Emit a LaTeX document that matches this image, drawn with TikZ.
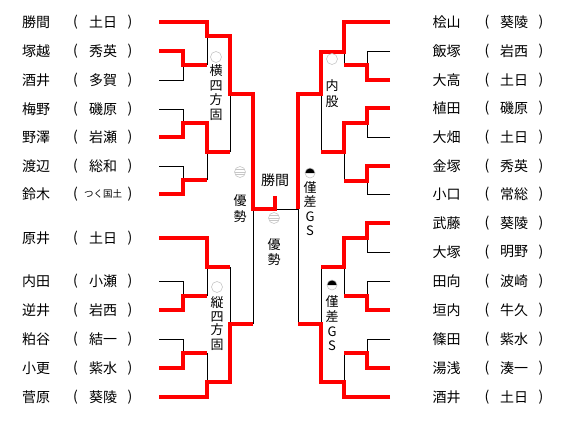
\documentclass[tikz,border=0pt]{standalone}
\usepackage{fontspec}
\newfontfamily\jpfont{Noto Sans CJK JP}
\begin{document}
\begin{tikzpicture}[x=1pt,y=-1pt,
  redl/.style={draw=red, line width=4.6pt, line join=miter},
  blkl/.style={draw=black, line width=0.8pt},
  nm/.style={font=\jpfont\fontsize{14}{14}\selectfont, inner sep=0pt, anchor=center},
  small/.style={font=\jpfont\fontsize{9.5}{9.5}\selectfont, inner sep=0pt, anchor=center},
  lab/.style={font=\jpfont\fontsize{13}{13}\selectfont, inner sep=0pt, anchor=center},
  mk/.style={draw=black!22, line width=0.6pt},
]
\useasboundingbox (0,0) rectangle (564,424);
\fill[white] (0,0) rectangle (564,424);
% x positions
\def\La{159}\def\Lb{183}\def\Lc{207}\def\Ld{230}\def\Le{253}\def\Cx{275}
\def\Ra{390}\def\Rb{367}\def\Rc{344}\def\Rd{321}\def\Re{298}
% ---------- left names ----------
\foreach \n/\a/\y [count=\i] in {勝間/土日/22,塚越/秀英/51,酒井/多賀/80,梅野/磯原/109,野澤/岩瀬/137,渡辺/総和/166,原井/土日/238,内田/小瀬/281,逆井/岩西/310,粕谷/結一/339,小更/紫水/368,菅原/葵陵/397}{
  \node[nm] (ln\i) at (36,\y) {\n};
  \node[nm] (lo\i) at (75.5,\y) {(};
  \node[nm] (la\i) at (103,\y) {\a};
  \node[nm] (lc\i) at (130,\y) {)};
}
\node[nm] (lnS) at (36,194) {鈴木};
\node[nm] (loS) at (75.5,194) {(};
\node[small] (laS) at (103,194) {つく国土};
\node[nm] (lcS) at (130,194) {)};
% ---------- right names ----------
\foreach \n/\a/\y [count=\i] in {桧山/葵陵/22,飯塚/岩西/51,大高/土日/80,植田/磯原/108,大畑/土日/137,金塚/秀英/166,小口/常総/194,武藤/葵陵/223,大塚/明野/252,田向/波崎/281,垣内/牛久/310,篠田/紫水/339,湯浅/湊一/368,酒井/土日/397}{
  \node[nm] (rn\i) at (446.5,\y) {\n};
  \node[nm] (ro\i) at (487,\y) {(};
  \node[nm] (ra\i) at (514,\y) {\a};
  \node[nm] (rc\i) at (541,\y) {)};
}
% ---------- black lines ----------
\draw[blkl] (\La,80)--(\Lb,80)--(\Lb,65);
\draw[blkl] (\Lc,65)--(\Lc,36);
\draw[blkl] (\La,109)--(\Lb,109)--(\Lb,123);
\draw[blkl] (\La,166)--(\Lb,166)--(\Lb,180);
\draw[blkl] (\Lc,180)--(\Lc,152);
\draw[blkl] (\Ld,152)--(\Ld,94);
\draw[blkl] (\La,281)--(\Lb,281)--(\Lb,296);
\draw[blkl] (\La,339)--(\Lb,339)--(\Lb,353);
\draw[blkl] (\Lc,296)--(\Lc,267);
\draw[blkl] (\Lc,353)--(\Lc,382);
\draw[blkl] (\Ld,267)--(\Ld,324);
\draw[blkl] (\Le,209)--(\Le,324);
\draw[blkl] (\Cx,209)--(\Re,209);
\draw[blkl] (\Re,209)--(\Re,324);
\draw[blkl] (\Ra,51)--(\Rb,51)--(\Rb,65);
\draw[blkl] (\Rc,52)--(\Rc,65);
\draw[blkl] (\Ra,137)--(\Rb,137)--(\Rb,123);
\draw[blkl] (\Ra,194)--(\Rb,194)--(\Rb,181);
\draw[blkl] (\Rc,152)--(\Rc,181);
\draw[blkl] (\Rd,94)--(\Rd,152);
\draw[blkl] (\Ra,252)--(\Rb,252)--(\Rb,238);
\draw[blkl] (\Rc,267)--(\Rc,296);
\draw[blkl] (\Ra,281)--(\Rb,281)--(\Rb,296);
\draw[blkl] (\Ra,339)--(\Rb,339)--(\Rb,353);
\draw[blkl] (\Rc,353)--(\Rc,382);
\draw[blkl] (\Rd,267)--(\Rd,324);
% ---------- red lines ----------
\draw[redl] (\La,22)--(\Lc,22)--(\Lc,36)--(\Ld,36)--(\Ld,94)--(\Le,94)--(\Le,209)--(\Cx,209)--(\Cx,196);
\draw[redl] (\La,51)--(\Lb,51)--(\Lb,65)--(\Lc,65);
\draw[redl] (\La,137)--(\Lb,137)--(\Lb,123)--(\Lc,123)--(\Lc,152)--(\Ld,152);
\draw[redl] (\La,194)--(\Lb,194)--(\Lb,180)--(\Lc,180);
\draw[redl] (\La,238)--(\Lc,238)--(\Lc,267)--(\Ld,267);
\draw[redl] (\La,310)--(\Lb,310)--(\Lb,296)--(\Lc,296);
\draw[redl] (\La,368)--(\Lb,368)--(\Lb,353)--(\Lc,353);
\draw[redl] (\La,397)--(\Lc,397)--(\Lc,382)--(\Ld,382)--(\Ld,324)--(\Le,324);
\draw[redl] (\Ra,22)--(\Rc,22)--(\Rc,52)--(\Rd,52)--(\Rd,94)--(\Re,94)--(\Re,209);
\draw[redl] (\Ra,80)--(\Rb,80)--(\Rb,65)--(\Rc,65);
\draw[redl] (\Ra,108)--(\Rb,108)--(\Rb,123)--(\Rc,123)--(\Rc,152)--(\Rd,152);
\draw[redl] (\Ra,166)--(\Rb,166)--(\Rb,181)--(\Rc,181);
\draw[redl] (\Ra,223)--(\Rb,223)--(\Rb,238)--(\Rc,238)--(\Rc,267)--(\Rd,267);
\draw[redl] (\Ra,310)--(\Rb,310)--(\Rb,296)--(\Rc,296);
\draw[redl] (\Ra,368)--(\Rb,368)--(\Rb,353)--(\Rc,353);
\draw[redl] (\Ra,397)--(\Rc,397)--(\Rc,382)--(\Rd,382)--(\Rd,324)--(\Re,324);
% ---------- result labels ----------
% left top: 横四方固
\draw[mk] (216,57) circle (5.5);
\foreach \c/\y [count=\i] in {横/71,四/86,方/100,固/115} \node[lab] (ka\i) at (216,\y) {\c};
% left bottom: 縦四方固
\draw[mk] (217,287) circle (5.5);
\foreach \c/\y [count=\i] in {縦/303,四/317,方/330,固/345} \node[lab] (kb\i) at (217,\y) {\c};
% left semi: 優勢
\draw[mk] (240,172) circle (5.5);
\foreach \yy in {-2.5,0,2.5} \draw[mk] (240-4.8,172+\yy)--(240+4.8,172+\yy);
\foreach \c/\y [count=\i] in {優/201,勢/217} \node[lab] (kc\i) at (240,\y) {\c};
% champion
\node[nm] (champ) at (275,180) {勝間};
% final: 優勢
\draw[mk] (274,218) circle (5.5);
\foreach \yy in {-2.5,0,2.5} \draw[mk] (274-4.8,218+\yy)--(274+4.8,218+\yy);
\foreach \c/\y [count=\i] in {優/245,勢/260} \node[lab] (kd\i) at (274,\y) {\c};
% right top: 内股
\draw[mk] (332,59) circle (5.5);
\foreach \c/\y [count=\i] in {内/86,股/102} \node[lab] (ke\i) at (332,\y) {\c};
% right semi: 僅差GS
\fill[black] (310-5,173) arc[start angle=180,end angle=360,radius=5] -- cycle;
\draw[mk] (310,173) circle (5);
\foreach \c/\y [count=\i] in {僅/188,差/202,G/217,S/231} \node[lab] (kf\i) at (310,\y) {\c};
% right bottom: 僅差GS
\fill[black] (332-5,285) arc[start angle=180,end angle=360,radius=5] -- cycle;
\draw[mk] (332,285) circle (5);
\foreach \c/\y [count=\i] in {僅/302,差/317,G/332,S/346} \node[lab] (kg\i) at (332,\y) {\c};
\end{tikzpicture}
\end{document}
